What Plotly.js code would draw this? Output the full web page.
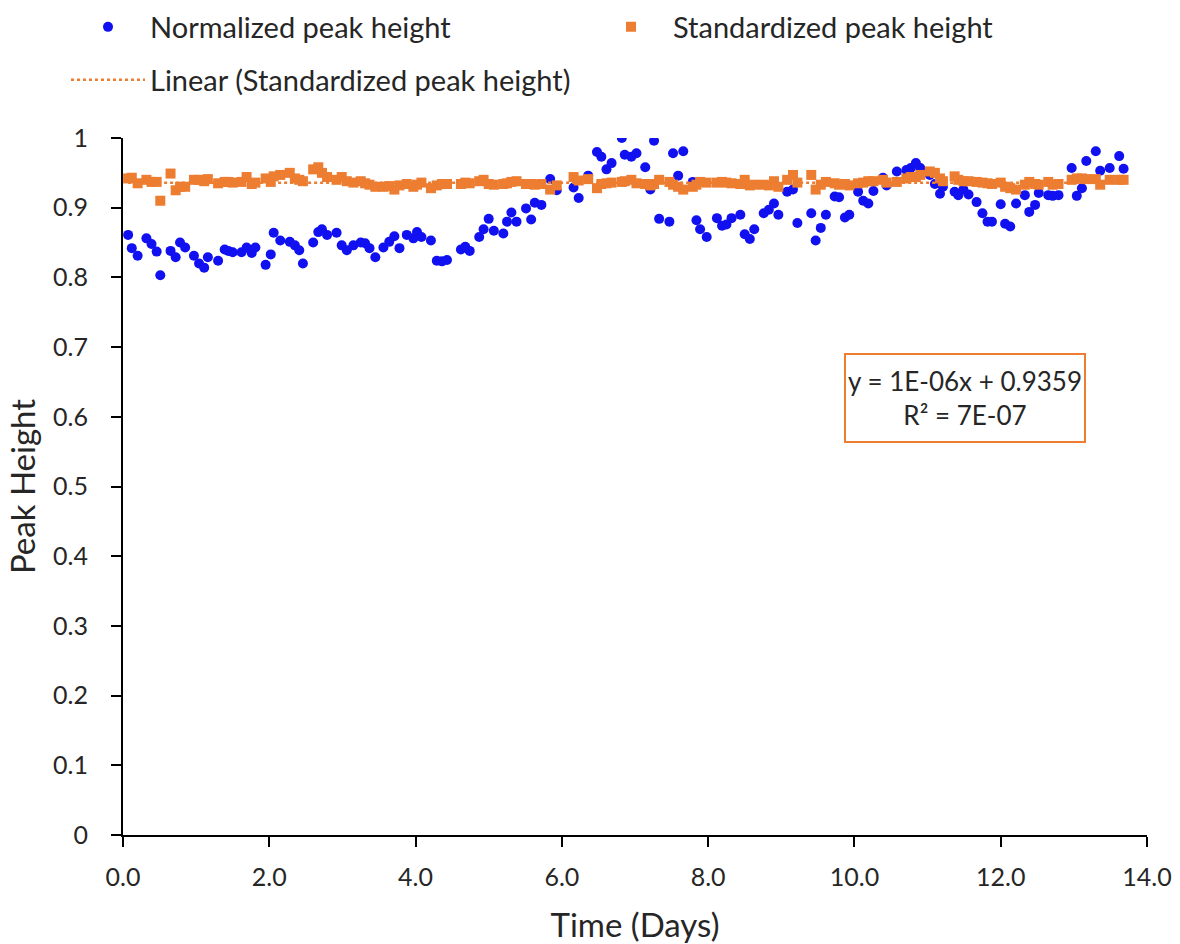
<!DOCTYPE html>
<html>
<head>
<meta charset="utf-8">
<script src="https://cdn.plot.ly/plotly-3.0.1.min.js"></script>
<style>body{margin:0;padding:0;background:#fff}#chart{width:1180px;height:944px}</style>
</head>
<body>
<div id="chart"></div>
<script>
// Time in days (shared by both series)
const timeDays = [
0.07,0.12,0.20,0.32,0.39,0.46,0.51,0.65,0.72,0.78,0.85,0.97,1.04,1.11,1.16,1.30,1.39,1.44,1.50,1.62,
1.69,1.76,1.81,1.95,2.02,2.06,2.15,2.28,2.35,2.41,2.46,2.60,2.67,2.72,2.79,2.92,2.99,3.06,3.15,3.25,
3.31,3.37,3.45,3.56,3.64,3.71,3.78,3.88,3.97,4.02,4.08,4.21,4.29,4.36,4.43,4.62,4.68,4.74,4.87,4.93,
5.00,5.07,5.20,5.25,5.31,5.38,5.51,5.58,5.63,5.72,5.84,5.93,6.16,6.23,6.36,6.48,6.54,6.61,6.68,6.82,
6.86,6.95,7.02,7.14,7.21,7.26,7.33,7.47,7.52,7.59,7.66,7.79,7.84,7.89,7.98,8.12,8.19,8.25,8.32,8.44,
8.50,8.57,8.63,8.76,8.83,8.90,8.96,9.08,9.16,9.22,9.41,9.47,9.54,9.61,9.73,9.79,9.87,9.93,10.05,10.12,
10.19,10.26,10.39,10.44,10.58,10.71,10.77,10.84,10.90,11.03,11.10,11.17,11.21,11.37,11.42,11.49,11.56,11.67,11.75,11.82,
11.88,12.00,12.06,12.13,12.21,12.33,12.39,12.47,12.52,12.65,12.71,12.79,12.97,13.04,13.11,13.17,13.30,13.36,13.49,13.62,
13.68
];

const normalizedPeak = [
0.861,0.842,0.831,0.856,0.848,0.837,0.803,0.838,0.829,0.850,0.843,0.831,0.820,0.814,0.829,0.824,0.840,0.838,0.836,0.836,
0.843,0.835,0.843,0.818,0.833,0.864,0.853,0.851,0.846,0.839,0.820,0.850,0.865,0.869,0.861,0.864,0.846,0.839,0.846,0.850,
0.849,0.842,0.829,0.843,0.851,0.859,0.842,0.861,0.856,0.865,0.858,0.853,0.824,0.823,0.825,0.840,0.844,0.838,0.858,0.869,
0.884,0.867,0.863,0.880,0.893,0.880,0.899,0.883,0.907,0.904,0.941,0.925,0.929,0.914,0.946,0.980,0.973,0.955,0.964,1.000,
0.976,0.973,0.978,0.958,0.926,0.996,0.884,0.880,0.978,0.946,0.981,0.937,0.882,0.869,0.858,0.885,0.874,0.876,0.885,0.890,
0.862,0.855,0.869,0.892,0.897,0.906,0.890,0.923,0.926,0.878,0.892,0.853,0.871,0.890,0.916,0.915,0.886,0.890,0.923,0.910,
0.906,0.924,0.943,0.932,0.952,0.954,0.957,0.964,0.957,0.947,0.934,0.920,0.930,0.923,0.918,0.926,0.919,0.908,0.892,0.880,
0.880,0.905,0.877,0.873,0.906,0.918,0.894,0.904,0.921,0.918,0.917,0.918,0.957,0.917,0.928,0.967,0.981,0.953,0.957,0.974,
0.956
];

const standardizedPeak = [
0.942,0.943,0.935,0.940,0.937,0.937,0.910,0.949,0.925,0.930,0.930,0.940,0.940,0.938,0.941,0.935,0.937,0.937,0.936,0.937,
0.944,0.934,0.936,0.942,0.937,0.945,0.947,0.950,0.942,0.940,0.938,0.955,0.958,0.950,0.944,0.940,0.944,0.938,0.936,0.938,
0.935,0.933,0.930,0.930,0.931,0.926,0.932,0.934,0.930,0.933,0.936,0.928,0.932,0.934,0.934,0.934,0.936,0.935,0.938,0.940,
0.934,0.933,0.934,0.935,0.937,0.938,0.934,0.934,0.933,0.934,0.926,0.932,0.944,0.939,0.941,0.928,0.934,0.935,0.936,0.937,
0.938,0.940,0.935,0.934,0.932,0.934,0.940,0.937,0.933,0.930,0.926,0.930,0.933,0.937,0.936,0.936,0.937,0.936,0.935,0.934,
0.940,0.932,0.933,0.933,0.932,0.938,0.930,0.940,0.947,0.936,0.947,0.926,0.933,0.937,0.935,0.933,0.934,0.932,0.935,0.936,
0.938,0.938,0.940,0.936,0.937,0.942,0.944,0.944,0.947,0.952,0.950,0.942,0.938,0.945,0.940,0.938,0.938,0.937,0.936,0.935,
0.934,0.936,0.930,0.928,0.926,0.933,0.937,0.934,0.933,0.937,0.933,0.934,0.940,0.942,0.942,0.941,0.941,0.933,0.940,0.940,
0.940
];

// Excel linear trendline for the standardized series
const trendSlope = 1e-6;
const trendIntercept = 0.9359;
const trendLabel = ["y = 1E-06x + 0.9359", "R² = 7E-07"];

const xTickVals = [0, 2, 4, 6, 8, 10, 12, 14];
const yTickVals = [0, 0.1, 0.2, 0.3, 0.4, 0.5, 0.6, 0.7, 0.8, 0.9, 1];

const tMin = Math.min(...timeDays), tMax = Math.max(...timeDays);
const trendX = [tMin, tMax];
const trendY = trendX.map(t => trendSlope * t + trendIntercept);

const FONT = "Lato, 'Open Sans', sans-serif";
const TXT = "#262626";
const ORANGE = "#ED7D31";
const BLUE = "#1010F0";

const traces = [
  {x: timeDays, y: normalizedPeak, type: "scatter", mode: "markers", name: "Normalized peak height",
   marker: {color: BLUE, size: 10, symbol: "circle"}, legend: "legend"},
  {x: timeDays, y: standardizedPeak, type: "scatter", mode: "markers", name: "Standardized peak height",
   marker: {color: ORANGE, size: 10, symbol: "square"}, legend: "legend2"},
  {x: trendX, y: trendY, type: "scatter", mode: "lines", name: "Linear (Standardized peak height)",
   line: {color: ORANGE, width: 2.5, dash: "dot"}, legend: "legend3"}
];

const legendBase = {orientation: "h", xref: "container", yref: "container", xanchor: "left", yanchor: "middle",
  font: {family: FONT, size: 29, color: TXT}, itemwidth: 74, bgcolor: "rgba(0,0,0,0)", borderwidth: 0};

const layout = {
  width: 1180, height: 944,
  margin: {l: 123, r: 33, t: 138, b: 109},
  paper_bgcolor: "#fff", plot_bgcolor: "#fff",
  font: {family: FONT, size: 24, color: TXT},
  showlegend: true,
  legend: Object.assign({}, legendBase, {x: 66/1180, y: 1 - 27/944}),
  legend2: Object.assign({}, legendBase, {x: 589/1180, y: 1 - 27/944}),
  legend3: Object.assign({}, legendBase, {x: 66/1180, y: 1 - 80/944}),
  xaxis: {
    range: [0, 14], tickvals: xTickVals, tickformat: ".1f",
    showgrid: false, zeroline: false, showline: true, linecolor: "#000", linewidth: 2,
    ticks: "outside", ticklen: 10, tickwidth: 2, tickcolor: "#000",
    tickfont: {family: FONT, size: 25, color: TXT}, ticklabelstandoff: 9,
    title: {text: "Time (Days)", font: {family: FONT, size: 33, color: TXT}, standoff: 25},
    fixedrange: true
  },
  yaxis: {
    range: [0, 1], tickvals: yTickVals,
    showgrid: false, zeroline: false, showline: true, linecolor: "#000", linewidth: 2,
    ticks: "outside", ticklen: 10, tickwidth: 2, tickcolor: "#000",
    tickfont: {family: FONT, size: 25, color: TXT}, ticklabelstandoff: 18,
    title: {text: "Peak Height", font: {family: FONT, size: 33, color: TXT}, standoff: 8},
    fixedrange: true
  },
  annotations: [{
    xref: "paper", yref: "paper", x: (965-123)/1024, y: (835-398)/697, xanchor: "center", yanchor: "middle",
    text: trendLabel.join("<br>"), showarrow: false, align: "center",
    font: {family: FONT, size: 26, color: TXT},
    bordercolor: ORANGE, borderwidth: 2, borderpad: 1, bgcolor: "#fff",
    width: 236, height: 84
  }]
};

Plotly.newPlot("chart", traces, layout, {displayModeBar: false, staticPlot: true});
</script>
</body>
</html>
